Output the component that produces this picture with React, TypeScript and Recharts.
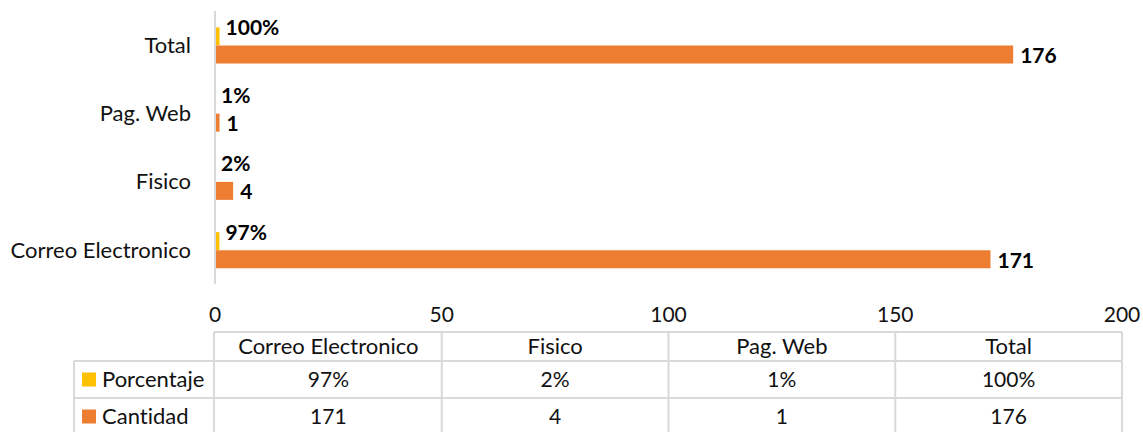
import React from 'react';
import { BarChart, Bar, XAxis, YAxis, LabelList } from 'recharts';

const categories = ['Correo Electronico', 'Fisico', 'Pag. Web', 'Total'];
const porcentaje = [0.97, 0.02, 0.01, 1.0];
const cantidad = [171, 4, 1, 176];
const pctText = ['97%', '2%', '1%', '100%'];
const xTicks = [0, 50, 100, 150, 200];
const seriesNames = ['Porcentaje', 'Cantidad'];
const seriesColors = ['#FFC000', '#ED7D31'];

const data = categories.map((c, i) => ({
  name: c,
  porcentaje: porcentaje[i],
  cantidad: cantidad[i],
}));

const W = 1143;
const H = 432;
const PLOT_LEFT = 215;
const PLOT_RIGHT = 1122;
const PLOT_TOP = 11;
const PLOT_BOTTOM = 284;
const CHART_H = 332;
const FONT = 'Lato, "Noto Sans", sans-serif';
const FS = 21;
const FS_WORD = 22;
const TEXT = '#111';
const GRID = '#d9d9d9';
const NOLIG: React.CSSProperties = { fontVariantLigatures: 'none', fontFeatureSettings: '"liga" 0, "clig" 0' };

const PctLabel = (props: any) => {
  const { x, y, width, height, value } = props;
  const cy = Number(y) + Number(height) / 2 - 9;
  return (
    <text x={Number(x) + Number(width) + 6} y={cy + 0.36 * FS} fontFamily={FONT} fontWeight={700} fontSize={FS} fill="#000">
      {Math.round(Number(value) * 100)}%
    </text>
  );
};

const CntLabel = (props: any) => {
  const { x, y, width, height, value } = props;
  const cy = Number(y) + Number(height) / 2 + 1;
  return (
    <text x={Number(x) + Number(width) + 7} y={cy + 0.36 * FS} fontFamily={FONT} fontWeight={700} fontSize={FS} fill="#000">
      {value}
    </text>
  );
};

function DataTable() {
  const colW = (PLOT_RIGHT - PLOT_LEFT) / categories.length;
  const cols = categories.map((_, i) => PLOT_LEFT + i * colW);
  const rowTops = [332, 361, 398, 435];
  const legendLeft = 74;
  const tableLeft = PLOT_LEFT - 1;
  const lines: React.ReactNode[] = [];
  lines.push(<line key="h0" x1={tableLeft} x2={PLOT_RIGHT} y1={rowTops[0]} y2={rowTops[0]} />);
  for (let r = 1; r < rowTops.length; r++) {
    lines.push(<line key={'h' + r} x1={legendLeft} x2={PLOT_RIGHT} y1={rowTops[r]} y2={rowTops[r]} />);
  }
  lines.push(<line key="vL" x1={legendLeft} x2={legendLeft} y1={rowTops[1]} y2={rowTops[3]} />);
  [...cols.map((c, i) => (i === 0 ? tableLeft : c)), PLOT_RIGHT].forEach((c, i) => {
    lines.push(<line key={'v' + i} x1={c} x2={c} y1={rowTops[0]} y2={rowTops[3]} />);
  });
  const rowCenter = (r: number, fs: number) => (rowTops[r] + rowTops[r + 1]) / 2 + 0.36 * fs;
  const rows = [pctText, cantidad.map(String)];
  return (
    <svg width={W} height={H} style={{ position: 'absolute', left: 0, top: 0, ...NOLIG }}>
      <g stroke={GRID} strokeWidth={2}>{lines}</g>
      <g fontFamily={FONT} fill={TEXT} textAnchor="middle">
        {categories.map((c, i) => (
          <text key={'c' + i} x={cols[i] + colW / 2} y={rowCenter(0, FS_WORD)} fontSize={FS_WORD}>{c}</text>
        ))}
        {rows.map((row, r) =>
          row.map((v, i) => (
            <text key={'r' + r + i} x={cols[i] + colW / 2} y={rowCenter(r + 1, FS)} fontSize={FS}>{v}</text>
          ))
        )}
      </g>
      {seriesNames.map((s, r) => {
        const mid = (rowTops[r + 1] + rowTops[r + 2]) / 2;
        return (
          <g key={'leg' + r}>
            <rect x={82} y={mid - 7} width={14} height={14} fill={seriesColors[r]} />
            <text x={102} y={mid + 0.36 * FS_WORD} fontFamily={FONT} fontSize={FS_WORD} fill={TEXT} style={NOLIG}>{s}</text>
          </g>
        );
      })}
    </svg>
  );
}

export default function App() {
  return (
    <div style={{ position: 'absolute', left: 0, top: 0, width: W, height: H, background: '#fff', overflow: 'hidden', ...NOLIG }}>
      <div style={{ position: 'absolute', left: 0, top: 0 }}>
        <BarChart
          width={W}
          height={CHART_H}
          data={data}
          layout="vertical"
          margin={{ top: PLOT_TOP, right: W - PLOT_RIGHT, bottom: 0, left: 0 }}
          barCategoryGap="24%"
          barGap={0}
        >
          <XAxis
            type="number"
            domain={[0, 200]}
            ticks={xTicks}
            axisLine={false}
            tickLine={false}
            tickSize={0}
            tickMargin={23}
            height={CHART_H - PLOT_BOTTOM}
            interval={0}
            tick={{ fontFamily: FONT, fontSize: FS, fill: TEXT }}
          />
          <YAxis
            type="category"
            dataKey="name"
            reversed
            width={PLOT_LEFT}
            axisLine={{ stroke: GRID, strokeWidth: 2 }}
            tickLine={false}
            tickSize={0}
            tickMargin={24}
            interval={0}
            tick={{ fontFamily: FONT, fontSize: FS_WORD, fill: TEXT }}
          />
          <Bar dataKey="porcentaje" fill={seriesColors[0]} isAnimationActive={false}>
            <LabelList dataKey="porcentaje" content={PctLabel} />
          </Bar>
          <Bar dataKey="cantidad" fill={seriesColors[1]} isAnimationActive={false}>
            <LabelList dataKey="cantidad" content={CntLabel} />
          </Bar>
        </BarChart>
      </div>
      <DataTable />
    </div>
  );
}
